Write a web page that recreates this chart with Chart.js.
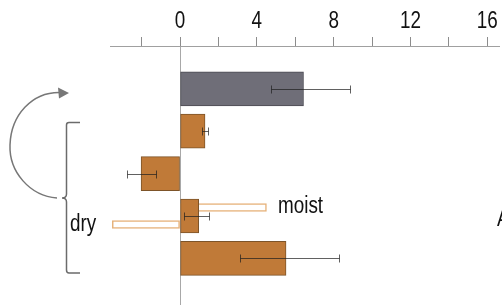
<!DOCTYPE html>
<html>
<head>
<meta charset="utf-8">
<script src="https://cdn.jsdelivr.net/npm/chart.js@4.4.1/dist/chart.umd.min.js"></script>
<style>
  html, body { margin: 0; padding: 0; background: #fff; }
  #wrap { width: 502px; height: 305px; position: relative; }
</style>
</head>
<body>
<div id="wrap"><canvas id="chart"></canvas></div>
<script>
// row positions (0 = top row) and bar values
const rows = [0, 1, 2, 3, 4];
const values = [6.43, 1.3, -2.03, 0.97, 5.52];
const errLow = [4.74, 1.13, -2.79, 0.2, 3.1];
const errHigh = [8.85, 1.46, -1.23, 1.49, 8.28];
const barColors = ['#6f6e78', '#c07a38', '#c07a38', '#c07a38', '#c07a38'];
const barBorders = ['#4b4a52', '#7d5429', '#7d5429', '#7d5429', '#7d5429'];

// thin hollow bars overlaid on row 3
const outlineRows = [2.8, 3.2];
const outlineValues = [4.5, -3.53];

const tickValues = [-2, 0, 2, 4, 6, 8, 10, 12, 14, 16];
const labelledTicks = [0, 4, 8, 12, 16];

// pick a condensed face if one is installed, otherwise squeeze Liberation Sans
function hasFont(name) {
  const c = document.createElement('canvas').getContext('2d');
  c.font = '40px monospace';
  const a = c.measureText('moist 0123').width;
  c.font = "40px '" + name + "', monospace";
  return c.measureText('moist 0123').width !== a;
}
const narrowFace = ['Liberation Sans Narrow', 'Arial Narrow'].find(hasFont);
const FONT = narrowFace ? "'" + narrowFace + "', sans-serif" : "'Liberation Sans', Arial, sans-serif";
const squeeze = narrowFace ? 1 : 0.82;
const realFillText = CanvasRenderingContext2D.prototype.fillText;

function squeezedText(ctx, txt, x, y) {
  ctx.save();
  ctx.translate(x, y);
  ctx.scale(squeeze, 1);
  realFillText.call(ctx, txt, 0, 0);
  ctx.restore();
}

// narrow the x tick labels too (Chart.js has no font-stretch option)
const narrowTicks = {
  id: 'narrowTicks',
  afterLayout(chart) {
    const sc = chart.scales.x;
    if (sc._narrowed || squeeze === 1) return;
    const orig = sc.drawLabels.bind(sc);
    sc.drawLabels = function (area) {
      const ctx = this.ctx;
      ctx.fillText = (t, x, y) => squeezedText(ctx, t, x, y);
      orig(area);
      delete ctx.fillText;
    };
    sc._narrowed = true;
  }
};

// error bars + the drawn annotations (brace, arrow, words)
const extras = {
  id: 'extras',
  afterDatasetsDraw(chart) {
    const { ctx, scales: { x, y } } = chart;
    ctx.save();
    ctx.strokeStyle = 'rgba(30,30,30,0.7)';
    ctx.lineWidth = 1;
    rows.forEach((r, i) => {
      const yc = Math.round(y.getPixelForValue(r)) + 0.5;
      const x1 = Math.round(x.getPixelForValue(errLow[i])) + 0.5;
      const x2 = Math.round(x.getPixelForValue(errHigh[i])) + 0.5;
      ctx.beginPath();
      ctx.moveTo(x1, yc); ctx.lineTo(x2, yc);
      ctx.moveTo(x1, yc - 4); ctx.lineTo(x1, yc + 4);
      ctx.moveTo(x2, yc - 4); ctx.lineTo(x2, yc + 4);
      ctx.stroke();
    });

    // brace
    ctx.strokeStyle = '#6b6b6b';
    ctx.lineWidth = 1.5;
    ctx.beginPath();
    ctx.moveTo(80, 122.5);
    ctx.lineTo(69, 122.5);
    ctx.quadraticCurveTo(66.5, 122.5, 66.5, 125);
    ctx.lineTo(66.5, 194);
    ctx.quadraticCurveTo(66.5, 198, 62, 198);
    ctx.quadraticCurveTo(66.5, 198, 66.5, 202);
    ctx.lineTo(66.5, 270);
    ctx.quadraticCurveTo(66.5, 273, 69, 273);
    ctx.lineTo(80, 273);
    ctx.stroke();

    // curved arrow
    ctx.strokeStyle = '#777';
    ctx.beginPath();
    ctx.moveTo(57, 198);
    ctx.bezierCurveTo(30, 196, 9, 172, 10, 145);
    ctx.bezierCurveTo(11, 115, 32, 92, 60, 92.5);
    ctx.stroke();
    ctx.fillStyle = '#777';
    ctx.beginPath();
    ctx.moveTo(69, 93);
    ctx.lineTo(58, 87.5);
    ctx.lineTo(59, 98.5);
    ctx.closePath();
    ctx.fill();

    // words
    ctx.fillStyle = '#111';
    ctx.font = '23px ' + FONT;
    ctx.textBaseline = 'alphabetic';
    ctx.textAlign = 'left';
    squeezedText(ctx, 'moist', 278, 213);
    squeezedText(ctx, 'dry', 70, 231);
    squeezedText(ctx, 'A', 497, 226);
    ctx.restore();
  }
};

new Chart(document.getElementById('chart'), {
  type: 'bar',
  data: {
    datasets: [
      {
        label: 'values',
        data: rows.map((r, i) => ({ x: values[i], y: r })),
        backgroundColor: barColors,
        borderColor: barBorders,
        borderWidth: 1,
        borderSkipped: false,
        barThickness: 34,
        stack: 'one'
      },
      {
        label: 'outline',
        data: outlineRows.map((r, i) => ({ x: outlineValues[i], y: r })),
        backgroundColor: '#ffffff',
        borderColor: '#e6b27a',
        borderWidth: 1.5,
        borderSkipped: false,
        barThickness: 8,
        stack: 'one'
      }
    ]
  },
  options: {
    indexAxis: 'y',
    responsive: true,
    maintainAspectRatio: false,
    animation: false,
    layout: { padding: { left: 110, right: 0, top: 0, bottom: 0 } },
    plugins: {
      legend: { display: false },
      tooltip: { enabled: false }
    },
    scales: {
      x: {
        type: 'linear',
        position: 'top',
        stacked: false,
        min: -3.65,
        max: 16.66,
        afterBuildTicks: axis => { axis.ticks = tickValues.map(v => ({ value: v })); },
        afterFit: axis => { axis.height = 46; },
        ticks: {
          color: '#111',
          padding: 2,
          maxRotation: 0,
          autoSkip: false,
          font: { family: FONT, size: 23 },
          callback: v => labelledTicks.includes(v) ? String(v) : ''
        },
        grid: {
          drawOnChartArea: true,
          drawTicks: true,
          tickLength: 9,
          color: ctx => ctx.tick && ctx.tick.value === 0 ? '#a8a8a8' : 'rgba(0,0,0,0)',
          tickColor: '#8c8c8c',
          lineWidth: 1
        },
        border: { display: true, color: '#a0a0a0', width: 1 }
      },
      y: {
        type: 'linear',
        display: false,
        reverse: true,
        offset: false,
        min: -1.01,
        max: 5.1
      }
    }
  },
  plugins: [narrowTicks, extras]
});
</script>
</body>
</html>
